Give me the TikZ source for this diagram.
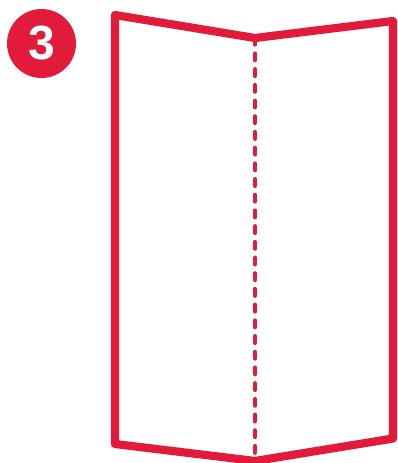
\documentclass[tikz,border=0pt]{standalone}
\usepackage{fontspec}
\setmainfont{Liberation Sans}
\definecolor{foldred}{RGB}{227,27,58}
\tikzset{
  outline/.style={draw=foldred,line width=8.2pt,line join=round},
  foldline/.style={draw=foldred,line width=4.6pt,line cap=round,dash pattern=on 6.4pt off 9.3pt},
  badge/.style={circle,fill=foldred,draw=none,minimum size=69pt,inner sep=0pt,text=white,font=\fontsize{48}{48}\selectfont\bfseries}
}
\begin{document}
\begin{tikzpicture}[x=1pt,y=-1pt]
\useasboundingbox (0,0) rectangle (397,463);
\coordinate (tl) at (115,15);
\coordinate (tm) at (255,38);
\coordinate (tr) at (393,21);
\coordinate (br) at (393,438.5);
\coordinate (bm) at (255,461);
\coordinate (bl) at (115,444);
\node[badge] (num) at (41.5,43.5) {3};
\draw[foldline] (tm) -- (bm);
\draw[outline] (tl) -- (tm) -- (tr) -- (br) -- (bm) -- (bl) -- cycle;
\end{tikzpicture}
\end{document}
